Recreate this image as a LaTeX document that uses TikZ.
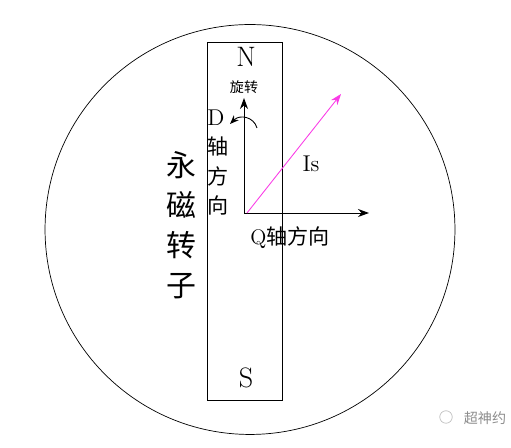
\documentclass[tikz,border=0pt]{standalone}
\usepackage{fontspec}
\newfontfamily\cjk{Noto Sans CJK SC}
\usetikzlibrary{arrows.meta}
\definecolor{ispink}{RGB}{250,60,230}

\begin{document}
\begin{tikzpicture}[x=0.02cm, y=-0.02cm, >={Stealth[length=2.2mm,width=1.6mm]},
	every node/.style={inner sep=0pt},
	axis/.style={->, line width=0.5pt},
	biglabel/.style={font=\fontsize{16}{16}\selectfont},
	cnlabel/.style={font=\cjk\fontsize{12}{14}\selectfont}]
	\useasboundingbox (0,0) rectangle (511,448);

	% rotor outline and magnet
	\node[circle, draw, line width=0.4pt, minimum size=8.2cm] (rotor) at (250,229.5) {};
	\node[draw, line width=0.5pt, minimum width=1.5cm, minimum height=7.16cm] (magnet) at (244.5,221) {};
	\node[biglabel] (north) at (246,57) {N};
	\node[biglabel] (south) at (246,378) {S};
	\node[font=\cjk\fontsize{17}{22.7}\selectfont, align=center] (name) at (181,225) {永\\磁\\转\\子};

	% d-q axes
	\coordinate (O) at (244,213);
	\coordinate (dtip) at (244,98);
	\coordinate (qtip) at (369,213);
	\draw[axis] (O) -- (dtip);
	\draw[axis] (O) -- (qtip);
	\node[font=\cjk\fontsize{8}{8}\selectfont] (spin) at (244,87) {旋转};
	\node[font=\fontsize{13}{13}\selectfont] (dname) at (216,118) {D};
	\node[cnlabel, align=center] (daxis) at (218,176) {轴\\[3pt]方\\[3pt]向};
	\node[cnlabel, anchor=west] (qaxis) at (250,238) {\fontspec{Latin Modern Roman}Q\cjk 轴方向};

	% rotation hint
	\coordinate (arcR) at (257,128);
	\coordinate (arcL) at (230,124);
	\draw[->, >={Stealth[length=1.8mm,width=1.4mm]}, line width=0.5pt] (arcR) .. controls (254,117) and (240,114) .. (arcL);

	% stator current vector
	\coordinate (Is0) at (247,213);
	\coordinate (Is1) at (341,94);
	\draw[->, ispink, line width=0.5pt] (Is0) -- (Is1);
	\node[font=\fontsize{13}{13}\selectfont] (isname) at (311,164) {Is};

	% watermark
	\node[font=\cjk\fontsize{8}{8}\selectfont, text=black!45] (mark) at (485,418) {超神约};
	\node[circle, draw=black!25, minimum size=0.25cm] (markicon) at (446,417) {};
\end{tikzpicture}
\end{document}
